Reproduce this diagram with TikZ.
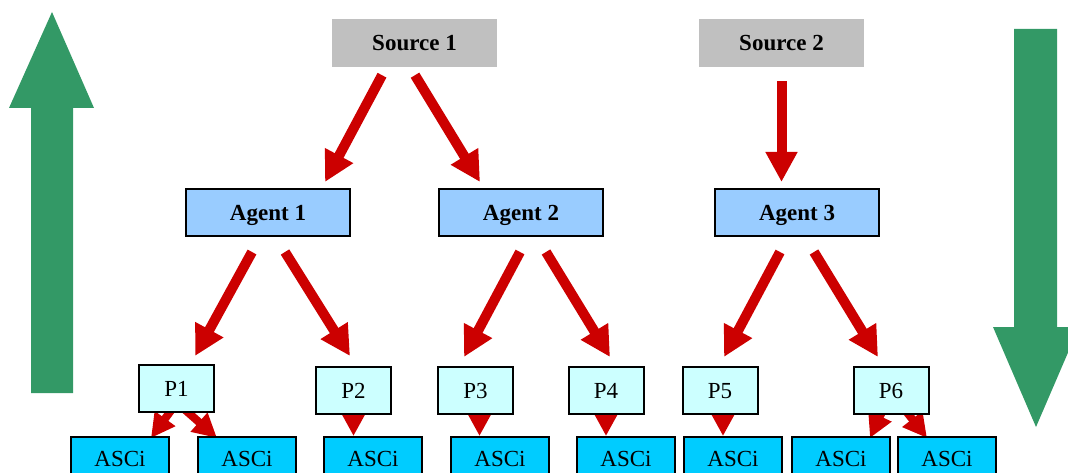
\documentclass[tikz,border=0pt]{standalone}
\usepackage{fontspec}
\setmainfont{Liberation Serif}
\usetikzlibrary{arrows.meta,calc}
\definecolor{srcgray}{HTML}{C0C0C0}
\definecolor{agentblue}{HTML}{99CCFF}
\definecolor{pcyan}{HTML}{CCFFFF}
\definecolor{ascicyan}{HTML}{00CCFF}
\definecolor{flowred}{HTML}{CC0000}
\definecolor{bandgreen}{HTML}{339966}
\pgfdeclarelayer{back}
\pgfsetlayers{back,main}
\begin{document}
\begin{tikzpicture}[x=1pt,y=-1pt,
  txt/.style={inner sep=0pt, text height=15.2pt, text depth=0pt,
              font=\fontsize{23}{26}\selectfont},
  box/.style={txt, draw=black, line width=2pt},
  src/.style={txt, fill=srcgray, minimum width=165pt, minimum height=48pt,
              font=\fontsize{23}{26}\selectfont\bfseries},
  agent/.style={box, fill=agentblue, minimum width=164pt, minimum height=47pt,
                font=\fontsize{23}{26}\selectfont\bfseries},
  proc/.style={box, fill=pcyan, minimum width=75pt, minimum height=47pt},
  asci/.style={box, fill=ascicyan, minimum width=98pt, minimum height=44pt},
  flow/.style={draw=flowred, line width=10pt, -{Triangle[length=30pt,width=30pt]}},
  feed/.style={draw=flowred, line width=8pt, -{Triangle[length=22pt,width=22pt]}},
  twin/.style={draw=flowred, line width=8pt, -{Triangle[length=24pt,width=24pt]}},
]
\useasboundingbox (0,0) rectangle (1068,473);
\clip (0,0) rectangle (1068,473);

% direction bands at the sides
\fill[bandgreen] (31,393) -- (31,108) -- (9,108) -- (52,12) -- (94,108)
  -- (73,108) -- (73,393) -- cycle;
\fill[bandgreen] (1014,29) -- (1057,29) -- (1057,327) -- (1079,327)
  -- (1036,427) -- (993,327) -- (1014,327) -- cycle;

% sources
\node[src] (s1) at (414.5,43) {Source 1};
\node[src] (s2) at (781.5,43) {Source 2};

% agents
\node[agent] (a1) at (268,212.5) {Agent 1};
\node[agent] (a2) at (521,212.5) {Agent 2};
\node[agent] (a3) at (797,212.5) {Agent 3};

% processes
\node[proc] (p1) at (176.5,388.5) {P1};
\node[proc] (p2) at (353.5,390.5) {P2};
\node[proc] (p3) at (475.5,390.5) {P3};
\node[proc] (p4) at (606,390.5) {P4};
\node[proc] (p5) at (720,390.5) {P5};
\node[proc] (p6) at (891,390.5) {P6};

% ASCi units
\node[asci] (c1) at (120,459) {ASCi};
\node[asci] (c2) at (247,459) {ASCi};
\node[asci] (c3) at (373,459) {ASCi};
\node[asci] (c4) at (500,459) {ASCi};
\node[asci] (c5) at (626,459) {ASCi};
\node[asci] (c6) at (733,459) {ASCi};
\node[asci] (c7) at (841,459) {ASCi};
\node[asci] (c8) at (947,459) {ASCi};

% sources to agents
\draw[flow] ($(s1.south)+(-32.5,8)$) -- ($(a1.north)+(57,-6)$);
\draw[flow] ($(s1.south)+(0.5,8)$) -- ($(a2.north)+(-41,-6)$);
\draw[flow] ($(s2.south)+(0,14)$) -- ($(s2.south |- a3.north)+(0,-6)$);

% agents to processes
\draw[flow] ($(a1.south)+(-16,15)$) -- ($(p1.north)+(18.5,-8)$);
\draw[flow] ($(a1.south)+(17,15)$) -- ($(p2.north)+(-3.5,-10)$);
\draw[flow] ($(a2.south)+(-1,15)$) -- ($(p3.north)+(-11.5,-9)$);
\draw[flow] ($(a2.south)+(25,15)$) -- ($(p4.north)+(4,-9)$);
\draw[flow] ($(a3.south)+(-17,15)$) -- ($(p5.north)+(4,-9)$);
\draw[flow] ($(a3.south)+(17,15)$) -- ($(p6.north)+(-13,-9)$);

% processes to ASCi units, shafts tucked behind the process boxes
\begin{pgfonlayer}{back}
  \draw[twin] ($(p1.center)+(-1.5,16.5)$) -- ($(p1.south)+(-25.5,25)$);
  \draw[twin] ($(p1.center)+(6.5,19.5)$) -- ($(p1.south)+(40.5,25)$);
  \draw[feed] (p2.center) -- (p2.center |- c3.north);
  \draw[feed] ($(p3.center)+(4,0)$) -- ($(p3.center |- c4.north)+(4,0)$);
  \draw[feed] (p4.center) -- (p4.center |- c5.north);
  \draw[feed] ($(p5.center)+(3,0)$) -- ($(p5.center |- c6.north)+(3,0)$);
  \draw[twin] ($(p6.center)+(-4,10.5)$) -- ($(p6.south)+(-21,23)$);
  \draw[twin] ($(p6.center)+(11,15.5)$) -- ($(p6.south)+(36,23)$);
\end{pgfonlayer}
\end{tikzpicture}
\end{document}
